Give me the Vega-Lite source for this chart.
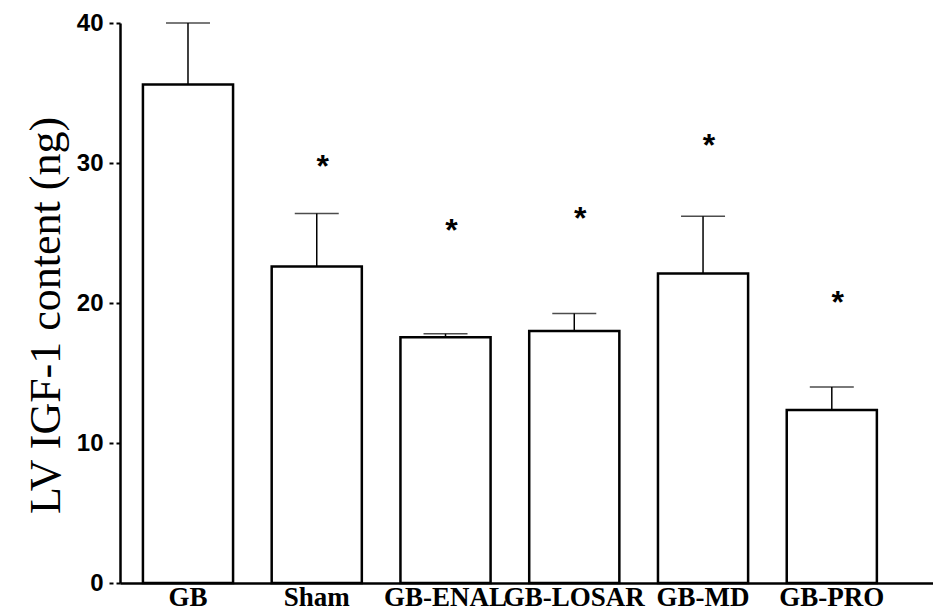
{
  "$schema": "https://vega.github.io/schema/vega-lite/v6.json",
  "width": 813,
  "height": 560,
  "autosize": {"type": "none"},
  "padding": {"left": 120, "top": 23, "right": 0, "bottom": 31},
  "background": "white",
  "config": {"view": {"stroke": null}},
  "data": {
    "values": [
      {"group": "GB", "mean": 35.6, "upper": 40.0, "star": null},
      {"group": "Sham", "mean": 22.6, "upper": 26.4, "star": 30.3},
      {"group": "GB-ENAL", "mean": 17.55, "upper": 17.8, "star": 25.7},
      {"group": "GB-LOSAR", "mean": 18.0, "upper": 19.25, "star": 26.6},
      {"group": "GB-MD", "mean": 22.1, "upper": 26.2, "star": 31.8},
      {"group": "GB-PRO", "mean": 12.35, "upper": 14.0, "star": 20.6}
    ]
  },
  "encoding": {
    "x": {
      "field": "group",
      "type": "nominal",
      "sort": null,
      "scale": {"paddingInner": 0.3, "paddingOuter": 0.307, "align": 0.29},
      "axis": {
        "title": null,
        "labelAngle": 0,
        "labelFont": "Liberation Serif",
        "labelFontWeight": "bold",
        "labelFontSize": 27,
        "labelColor": "black",
        "labelPadding": 1,
        "ticks": false,
        "domainColor": "black",
        "domainWidth": 2.5,
        "labelOverlap": false
      }
    }
  },
  "layer": [
    {
      "mark": {"type": "rule", "color": "black", "strokeWidth": 1.5},
      "encoding": {
        "y": {"field": "mean", "type": "quantitative"},
        "y2": {"field": "upper"}
      }
    },
    {
      "mark": {"type": "tick", "color": "black", "thickness": 1.5, "size": 44, "orient": "horizontal"},
      "encoding": {
        "y": {"field": "upper", "type": "quantitative"}
      }
    },
    {
      "mark": {"type": "bar", "fill": "white", "stroke": "black", "strokeWidth": 2.5, "width": {"band": 1}},
      "encoding": {
        "y": {
          "field": "mean",
          "type": "quantitative",
          "scale": {"domain": [0, 40], "nice": false},
          "axis": {
            "title": "LV IGF-1 content (ng)",
            "titleFont": "Liberation Serif",
            "titleFontWeight": "normal",
            "titleFontSize": 44,
            "titleColor": "black",
            "titlePadding": 8,
            "titleY": 292,
            "values": [0, 10, 20, 30, 40],
            "grid": false,
            "labelFont": "Liberation Sans",
            "labelFontWeight": "bold",
            "labelFontSize": 24,
            "labelColor": "black",
            "labelPadding": 5,
            "tickSize": 12,
            "tickWidth": 2,
            "tickDash": [4, 3],
            "tickColor": "black",
            "domainColor": "black",
            "domainWidth": 2.5
          }
        }
      }
    },
    {
      "transform": [{"filter": "datum.star != null"}],
      "mark": {"type": "text", "text": "*", "font": "Liberation Sans", "fontWeight": "bold", "fontSize": 32, "baseline": "alphabetic", "dy": 18, "dx": 6, "color": "black"},
      "encoding": {
        "y": {"field": "star", "type": "quantitative"}
      }
    }
  ]
}
